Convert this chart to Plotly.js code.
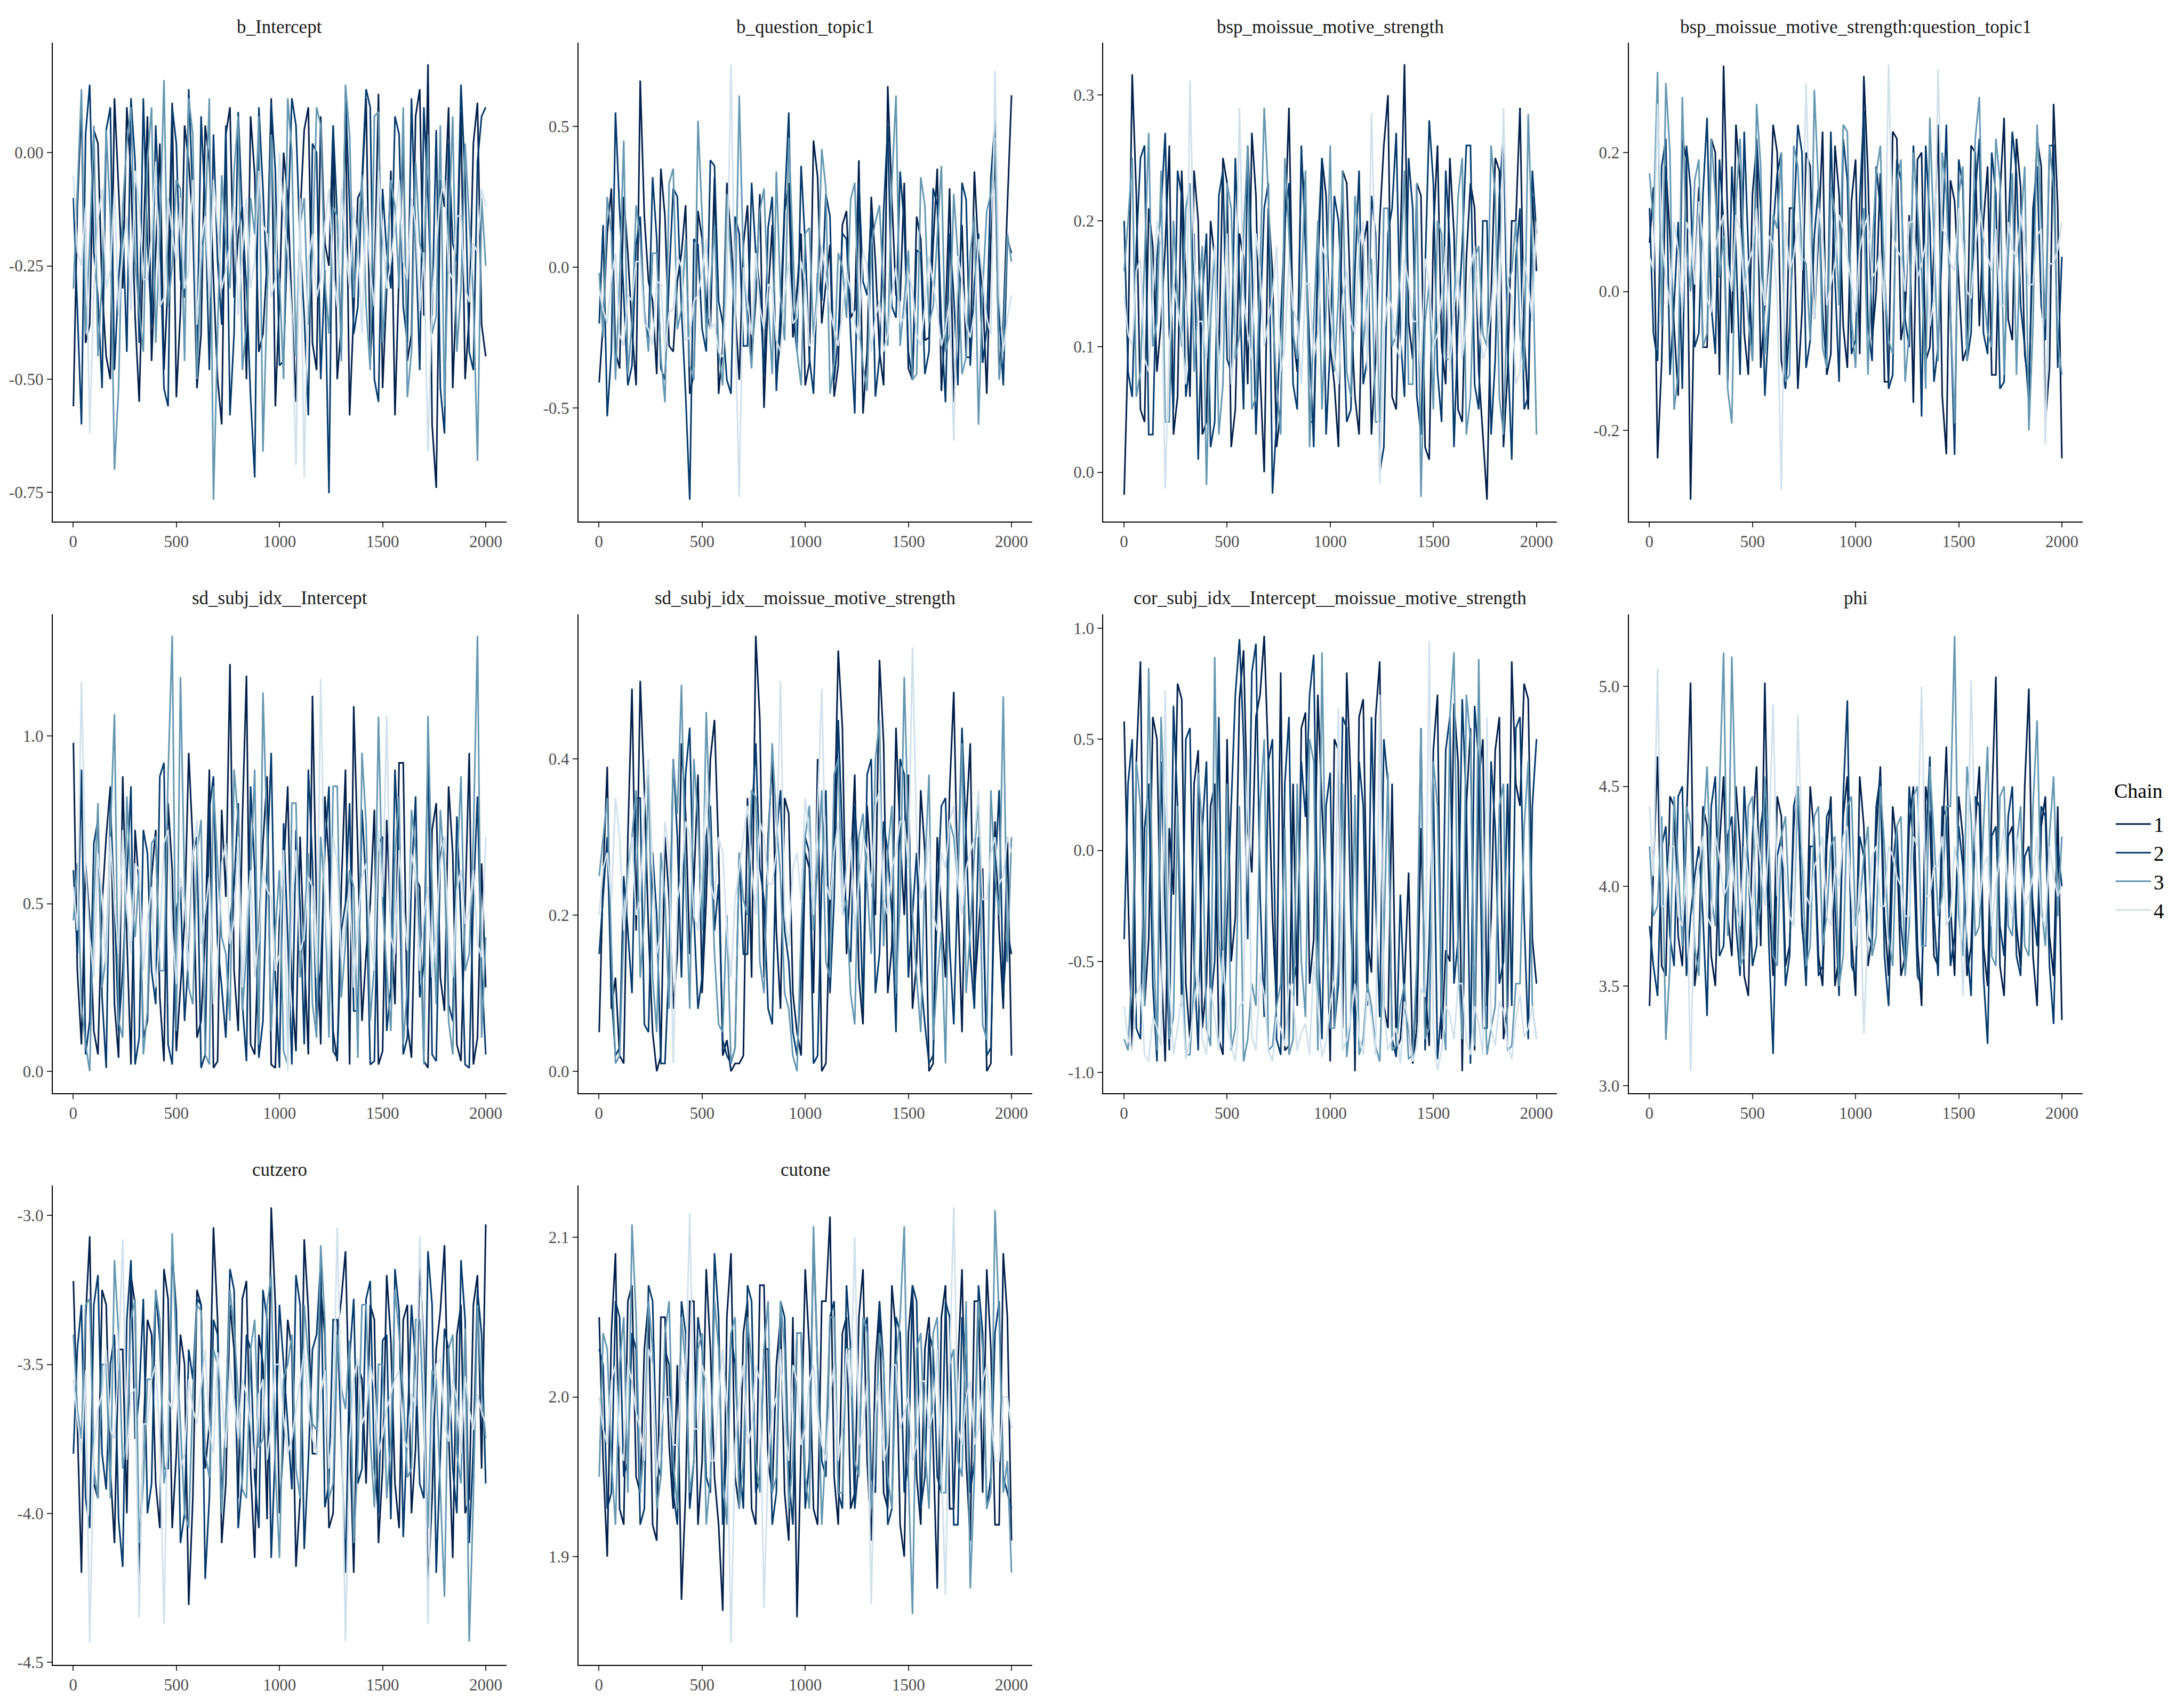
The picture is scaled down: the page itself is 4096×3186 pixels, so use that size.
<!DOCTYPE html>
<html>
<head>
<meta charset="utf-8">
<script src="https://cdn.plot.ly/plotly-3.0.1.min.js"></script>
<style>html,body{margin:0;padding:0;background:#fff;}#chart{width:4096px;height:3186px;}</style>
</head>
<body>
<div id="chart"></div>
<script>
// ---------------- data ----------------
// draws at two interleaved sets of iterations
const iterationA = [1,40,80,120,160,200,240,280,320,360,400,440,480,520,560,600,640,680,720,760,800,840,880,920,960,1000,1040,1080,1120,1160,1200,1240,1280,1320,1360,1400,1440,1480,1520,1560,1600,1640,1680,1720,1760,1800,1840,1880,1920,1960,2000];
const iterationB = [20,60,100,140,180,220,260,300,340,380,420,460,500,540,580,620,660,700,740,780,820,860,900,940,980,1020,1060,1100,1140,1180,1220,1260,1300,1340,1380,1420,1460,1500,1540,1580,1620,1660,1700,1740,1780,1820,1860,1900,1940,1980];
const chainNames = ['1','2','3','4'];
const parameters = ['b_Intercept','b_question_topic1','bsp_moissue_motive_strength','bsp_moissue_motive_strength:question_topic1','sd_subj_idx__Intercept','sd_subj_idx__moissue_motive_strength','cor_subj_idx__Intercept__moissue_motive_strength','phi','cutzero','cutone'];

const b_Intercept_c1 = [-0.56,0.10,-0.38,0.02,-0.45,0.12,-0.30,-0.05,-0.55,0.08,-0.22,-0.48,0.11,-0.35,-0.02,-0.52,0.06,-0.28,-0.60,0.10,-0.18,-0.50,-0.05,-0.40,0.12,-0.32,-0.10,-0.55,0.05,-0.42,0.08,-0.25,-0.50,0.10,-0.35,-0.08,-0.46,0.13,-0.30,-0.58,0.02,-0.40,0.14,0.195,-0.74,-0.12,-0.52,0.09,-0.36,0.11,-0.45];
const b_Intercept_c1b = [-0.12,-0.42,0.05,-0.30,-0.50,-0.08,0.10,-0.36,-0.20,-0.46,0.02,-0.28,-0.54,0.06,-0.16,-0.40,-0.02,-0.50,0.04,-0.32,-0.12,0.08,-0.44,-0.24,-0.56,0.00,-0.34,-0.14,0.10,-0.48,-0.20,0.06,-0.38,-0.58,-0.10,0.12,-0.30,-0.52,-0.04,-0.26,-0.46,0.08,-0.36,-0.60,-0.06,0.10,-0.28,-0.50,0.02,-0.38];
const b_Intercept_c2 = [-0.10,-0.60,0.15,-0.32,0.05,-0.48,-0.15,0.12,-0.42,-0.20,0.06,-0.52,0.10,-0.28,0.14,-0.45,-0.12,0.04,-0.38,-0.58,0.09,-0.30,-0.717,-0.08,0.11,-0.47,-0.18,0.06,-0.36,0.02,-0.50,-0.752,-0.14,0.13,-0.40,-0.06,0.10,-0.55,-0.22,0.08,-0.34,0.12,-0.48,-0.10,0.05,-0.62,-0.20,0.15,-0.44,-0.02,0.10];
const b_Intercept_c2b = [-0.34,0.04,-0.22,-0.52,0.10,-0.28,-0.44,-0.02,0.12,-0.38,-0.16,-0.56,0.02,-0.32,-0.10,0.08,-0.48,-0.24,0.06,-0.40,-0.14,-0.54,0.10,-0.30,-0.04,-0.46,0.12,-0.20,-0.58,0.00,-0.26,0.06,-0.44,-0.12,-0.34,0.14,-0.50,-0.08,-0.30,0.04,-0.42,-0.18,0.10,-0.36,-0.52,0.02,-0.24,-0.06,-0.48,0.08];
const b_Intercept_c3 = [-0.30,0.14,-0.20,-0.45,0.05,-0.70,-0.12,0.10,-0.35,-0.02,-0.42,0.16,-0.25,-0.08,0.12,-0.50,-0.15,-0.766,-0.05,-0.30,0.08,-0.38,-0.18,-0.66,0.04,-0.28,0.12,-0.45,-0.10,-0.22,0.06,-0.40,-0.14,0.15,-0.32,-0.05,-0.48,0.09,-0.26,-0.12,0.10,-0.44,-0.20,0.04,-0.36,-0.56,0.08,-0.30,-0.15,-0.68,-0.25];
const b_Intercept_c3b = [-0.08,-0.40,0.06,-0.28,-0.14,-0.52,0.02,-0.24,-0.44,0.10,-0.18,-0.34,-0.06,-0.46,0.04,-0.26,0.12,-0.40,-0.20,-0.04,-0.48,-0.10,0.08,-0.32,-0.22,-0.50,0.00,-0.16,-0.38,0.10,-0.28,-0.12,-0.46,0.04,-0.20,-0.34,0.08,-0.42,-0.06,-0.30,-0.54,-0.02,-0.24,-0.40,0.06,-0.18,-0.44,0.02,-0.32,-0.10];
const b_Intercept_c4 = [-0.05,-0.25,-0.62,-0.15,-0.30,-0.08,-0.22,-0.35,-0.12,-0.28,-0.02,-0.32,-0.18,-0.10,-0.26,-0.38,-0.14,-0.06,-0.30,-0.20,-0.36,-0.10,-0.24,-0.16,-0.32,0.00,-0.22,-0.69,-0.717,-0.18,-0.28,-0.08,-0.34,-0.20,-0.12,-0.40,-0.26,-0.04,-0.30,-0.16,-0.24,-0.10,-0.35,-0.66,-0.20,-0.06,-0.28,-0.14,-0.33,-0.22,-0.12];
const b_Intercept_c4b = [-0.22,-0.12,-0.30,-0.08,-0.26,-0.36,-0.14,-0.04,-0.28,-0.18,-0.34,-0.10,-0.24,-0.30,-0.06,-0.20,-0.32,-0.16,-0.26,-0.12,-0.22,-0.30,-0.04,-0.18,-0.28,-0.14,-0.36,-0.10,-0.24,-0.32,-0.16,-0.26,-0.08,-0.30,-0.20,-0.12,-0.34,-0.18,-0.24,-0.06,-0.28,-0.16,-0.22,-0.32,-0.10,-0.26,-0.14,-0.30,-0.20,-0.08];

const b_question_topic1_c1 = [-0.41,0.12,-0.30,0.25,-0.22,0.663,-0.05,-0.38,0.18,-0.30,0.05,-0.45,0.20,-0.15,0.32,-0.28,0.10,-0.40,0.22,-0.12,-0.50,0.15,-0.25,0.30,-0.08,-0.42,0.45,-0.20,0.08,-0.35,0.20,-0.15,-0.52,0.25,-0.30,0.643,-0.10,0.30,-0.40,0.10,-0.25,0.35,-0.18,-0.48,0.15,-0.32,0.05,-0.45,0.40,-0.20,0.611];
const b_question_topic1_c1b = [-0.20,0.28,-0.36,0.05,-0.42,0.18,-0.12,0.35,-0.28,-0.05,0.22,-0.38,0.10,-0.22,-0.45,0.30,-0.15,0.08,-0.32,0.26,-0.10,-0.40,0.20,-0.25,0.12,-0.34,0.32,-0.06,-0.46,0.15,-0.18,0.38,-0.30,0.02,-0.42,0.24,-0.12,-0.36,0.18,-0.26,0.08,-0.44,0.28,-0.14,-0.32,0.34,-0.08,0.10,-0.38,0.22];
const b_question_topic1_c2 = [-0.20,-0.53,0.55,-0.10,-0.35,0.18,-0.25,0.10,-0.40,0.28,-0.15,-0.826,0.08,-0.30,0.36,-0.20,-0.45,0.12,-0.28,0.05,-0.38,0.25,-0.15,0.55,-0.30,0.08,-0.45,-0.12,0.18,-0.25,0.10,-0.52,-0.05,0.20,-0.32,0.50,-0.18,0.15,-0.40,0.05,-0.30,0.22,-0.48,-0.10,0.30,-0.35,0.12,-0.22,0.52,-0.42,0.05];
const b_question_topic1_c2b = [0.15,-0.30,0.20,-0.42,0.08,-0.18,0.32,-0.36,-0.04,0.25,-0.45,0.10,-0.22,0.38,-0.12,-0.40,0.18,-0.28,0.30,-0.08,0.14,-0.44,0.22,-0.16,0.36,-0.32,-0.02,0.26,-0.40,0.12,-0.24,0.30,-0.10,-0.46,0.20,-0.14,0.34,-0.30,0.06,-0.38,0.28,-0.20,0.12,-0.42,0.24,-0.06,-0.34,0.32,-0.16,0.10];
const b_question_topic1_c3 = [-0.02,0.25,-0.40,0.45,-0.20,0.10,-0.30,0.05,-0.48,0.35,-0.15,-0.35,0.52,-0.25,0.15,-0.42,0.02,0.61,-0.20,-0.05,0.28,-0.38,-0.10,0.46,-0.30,0.12,-0.25,0.42,-0.45,0.05,-0.18,0.30,-0.35,0.08,0.22,-0.28,0.61,-0.12,-0.40,0.32,-0.20,0.10,-0.30,0.26,-0.38,0.05,-0.56,0.20,0.46,-0.25,0.02];
const b_question_topic1_c3b = [-0.25,0.12,-0.05,-0.38,0.22,-0.15,0.05,-0.32,0.30,-0.22,0.10,-0.40,0.18,-0.08,-0.30,0.26,-0.18,0.02,-0.36,0.20,-0.12,0.34,-0.26,0.08,-0.42,0.14,-0.06,0.28,-0.34,0.00,0.24,-0.20,-0.44,0.16,-0.10,0.30,-0.28,0.06,-0.38,0.22,-0.14,0.36,-0.24,0.04,-0.32,0.18,-0.08,0.26,-0.40,0.12];
const b_question_topic1_c4 = [-0.08,-0.20,0.05,-0.28,-0.12,0.02,-0.22,-0.05,-0.30,-0.15,0.00,-0.25,-0.10,0.10,-0.20,-0.32,0.721,-0.816,-0.12,0.05,-0.22,-0.08,-0.30,0.02,-0.18,-0.05,-0.26,0.08,-0.15,-0.28,-0.02,-0.20,0.06,-0.30,-0.12,-0.24,0.00,-0.18,-0.08,-0.28,0.04,-0.15,-0.22,-0.617,-0.05,-0.25,0.10,-0.18,0.698,-0.30,-0.10];
const b_question_topic1_c4b = [-0.15,-0.04,-0.24,-0.10,0.02,-0.20,-0.28,-0.06,-0.16,0.04,-0.26,-0.12,-0.02,-0.22,-0.30,-0.08,-0.18,0.00,-0.24,-0.14,-0.06,-0.26,-0.10,-0.20,0.02,-0.28,-0.12,-0.04,-0.22,-0.16,-0.08,-0.26,0.00,-0.18,-0.30,-0.10,-0.20,-0.02,-0.24,-0.14,-0.06,-0.28,-0.12,0.04,-0.20,-0.16,-0.04,-0.24,-0.10,-0.18];

const bsp_motive_c1 = [-0.018,0.3166,0.05,0.21,0.08,0.18,0.03,0.24,0.06,0.20,0.04,0.17,0.25,0.02,0.19,0.07,0.22,0.00,0.16,0.05,0.29,0.08,0.21,0.04,0.25,0.10,0.02,0.23,0.06,0.18,0.03,0.20,0.30,0.05,0.3246,0.09,0.22,0.01,0.26,0.07,0.19,0.04,0.23,0.08,-0.0218,0.25,0.02,0.20,0.29,0.05,0.16];
const bsp_motive_c1b = [0.10,0.22,0.04,0.18,0.12,0.26,0.06,0.15,0.24,0.03,0.20,0.09,0.23,0.05,0.17,0.27,0.08,0.21,0.02,0.19,0.11,0.25,0.04,0.16,0.22,0.07,0.24,0.13,0.03,0.20,0.09,0.26,0.06,0.18,0.12,0.23,0.02,0.19,0.10,0.25,0.05,0.17,0.21,0.03,0.14,0.24,0.08,0.20,0.11,0.22];
const bsp_motive_c2 = [0.20,0.06,0.25,0.03,0.17,0.27,0.05,0.22,0.09,0.01,0.19,0.04,0.24,0.08,0.15,0.26,0.03,0.21,-0.017,0.12,0.23,0.05,0.18,0.02,0.25,0.10,0.20,0.04,0.16,0.07,0.22,0.00,0.19,0.27,0.06,0.21,0.03,0.28,0.08,0.24,0.02,0.18,0.26,0.05,0.20,0.09,0.27,0.01,0.21,0.06,0.19];
const bsp_motive_c2b = [0.08,0.18,0.26,0.03,0.21,0.11,0.24,0.06,0.19,0.14,0.02,0.22,0.09,0.25,0.05,0.17,0.12,0.23,0.04,0.20,0.07,0.26,0.10,0.18,0.03,0.22,0.13,0.05,0.24,0.09,0.19,0.02,0.21,0.11,0.25,0.06,0.16,0.23,0.04,0.18,0.12,0.26,0.07,0.20,0.03,0.22,0.10,0.17,0.05,0.24];
const bsp_motive_c3 = [0.16,0.25,0.08,0.27,0.12,0.04,0.20,0.10,0.23,0.14,-0.01,0.18,0.07,0.21,0.11,0.26,0.06,0.29,0.13,0.03,0.19,0.09,0.24,0.12,0.05,0.26,0.14,0.08,0.22,0.10,0.17,0.04,0.21,0.11,0.24,0.07,-0.0196,0.15,0.20,0.09,0.13,0.25,0.06,0.18,0.10,0.22,0.03,0.16,0.11,0.285,0.03];
const bsp_motive_c3b = [0.20,0.06,0.17,0.10,0.24,0.04,0.14,0.21,0.08,0.18,0.12,0.03,0.23,0.09,0.19,0.05,0.16,0.22,0.07,0.25,0.11,0.15,0.02,0.20,0.13,0.08,0.24,0.06,0.18,0.14,0.04,0.21,0.10,0.16,0.07,0.23,0.12,0.05,0.19,0.09,0.22,0.03,0.17,0.11,0.26,0.06,0.15,0.20,0.08,0.18];
const bsp_motive_c4 = [0.14,0.10,0.17,0.08,0.20,-0.013,0.15,0.11,0.3116,0.12,0.09,0.18,0.13,0.07,0.29,0.11,0.19,0.10,0.14,0.08,0.17,0.12,0.15,0.09,0.18,0.13,0.07,0.16,0.11,0.20,0.286,-0.009,0.14,0.10,0.17,0.12,0.08,0.15,0.11,0.18,0.13,0.09,0.16,0.12,0.10,0.17,0.29,0.14,0.08,0.15,0.20];
const bsp_motive_c4b = [0.11,0.16,0.09,0.14,0.18,0.10,0.13,0.07,0.17,0.12,0.15,0.08,0.19,0.11,0.14,0.09,0.16,0.12,0.18,0.10,0.13,0.07,0.15,0.11,0.17,0.09,0.14,0.12,0.18,0.08,0.16,0.11,0.13,0.09,0.15,0.12,0.17,0.10,0.14,0.08,0.16,0.12,0.18,0.09,0.13,0.11,0.15,0.07,0.17,0.12];

const bsp_topic_c1 = [0.07,-0.24,0.18,-0.05,0.22,-0.2995,0.15,-0.08,0.20,0.325,-0.06,0.16,-0.12,0.21,-0.02,0.24,-0.10,0.12,-0.14,0.20,-0.04,0.23,-0.09,0.14,-0.11,0.19,0.31,-0.07,0.17,-0.13,0.22,-0.03,-0.16,0.20,-0.08,0.24,-0.234,0.13,-0.10,0.21,-0.05,0.18,-0.12,0.25,-0.07,0.15,-0.14,0.22,-0.19,0.27,-0.24];
const bsp_topic_c1b = [0.15,-0.10,0.08,-0.15,0.19,0.02,-0.08,0.22,-0.12,0.10,0.24,-0.06,0.14,-0.11,0.05,0.20,-0.14,0.12,-0.03,0.18,0.08,-0.12,0.21,-0.05,0.13,-0.09,0.17,0.00,-0.13,0.23,-0.07,0.11,0.19,-0.10,0.06,-0.15,0.16,0.02,-0.08,0.20,0.10,-0.12,0.14,-0.04,0.22,-0.09,0.07,0.18,-0.11,0.12];
const bsp_topic_c2 = [0.12,-0.10,0.22,-0.02,-0.14,0.15,-0.06,0.25,-0.09,0.10,0.18,-0.12,0.06,0.22,-0.15,0.09,0.20,-0.05,0.24,-0.11,0.08,-0.03,0.23,-0.13,0.16,-0.07,0.26,-0.10,0.12,-0.14,0.19,-0.04,0.21,-0.18,0.10,-0.08,0.24,-0.235,0.15,-0.06,0.22,-0.09,0.14,-0.13,0.23,-0.02,-0.16,0.18,-0.07,0.21,0.05];
const bsp_topic_c2b = [-0.06,0.18,-0.12,0.10,0.21,-0.08,0.14,-0.02,0.19,-0.13,0.06,0.23,-0.10,0.12,-0.04,0.17,-0.14,0.09,0.20,-0.07,0.15,-0.11,0.02,0.22,-0.09,0.13,-0.05,0.18,0.04,-0.12,0.16,-0.08,0.11,0.21,-0.13,0.07,-0.03,0.19,-0.10,0.14,-0.06,0.20,-0.14,0.09,0.17,-0.08,0.12,-0.02,0.21,-0.11];
const bsp_topic_c3 = [0.17,0.316,0.30,-0.17,0.28,0.00,0.19,-0.06,0.14,0.08,-0.19,0.22,-0.04,0.27,-0.09,0.11,0.20,-0.12,0.18,0.04,0.29,-0.08,0.15,-0.02,0.23,-0.11,0.12,0.06,0.21,-0.07,0.16,-0.13,0.20,0.03,0.25,-0.10,0.14,-0.19,0.18,0.01,0.28,-0.06,0.22,-0.12,0.17,0.09,-0.20,0.24,-0.04,0.15,-0.12];
const bsp_topic_c3b = [0.10,-0.05,0.20,-0.12,0.06,0.16,-0.08,0.22,0.02,-0.14,0.13,0.04,-0.10,0.18,-0.02,0.09,-0.13,0.21,0.05,-0.07,0.15,-0.11,0.11,0.24,-0.04,0.08,-0.12,0.17,0.01,-0.09,0.19,-0.06,0.12,-0.14,0.07,0.20,-0.03,0.14,-0.10,0.22,0.00,-0.08,0.16,0.05,-0.12,0.18,-0.05,0.10,0.21,-0.07];
const bsp_topic_c4 = [0.05,0.27,0.02,0.10,-0.03,0.08,0.13,-0.01,0.06,0.11,0.00,0.09,0.04,0.12,-0.02,0.07,-0.2855,0.03,0.10,0.30,-0.04,0.08,0.01,0.11,0.05,-0.03,0.09,0.02,0.06,0.327,0.06,0.00,0.10,0.04,-0.05,0.32,0.08,0.03,0.07,-0.01,0.12,0.05,0.09,-0.02,0.06,0.11,0.01,0.08,-0.22,0.04,0.10];
const bsp_topic_c4b = [0.03,0.08,-0.02,0.06,0.10,0.01,0.07,-0.03,0.09,0.04,0.11,0.00,0.06,0.02,0.08,-0.01,0.10,0.05,0.03,0.07,0.12,-0.02,0.04,0.09,0.01,0.06,0.11,0.03,-0.03,0.08,0.05,0.10,0.02,0.07,-0.01,0.09,0.04,0.12,0.00,0.06,0.08,0.03,-0.02,0.10,0.05,0.07,0.01,0.09,0.04,0.06];

const sd_intercept_c1 = [0.98,0.08,0.45,0.05,0.70,0.20,0.88,0.02,0.55,0.15,0.72,0.03,0.60,0.25,0.95,0.10,0.40,0.01,0.78,1.215,0.12,1.18,0.05,0.68,0.02,0.45,0.85,0.06,0.35,1.12,0.08,0.62,0.03,0.90,1.089,0.15,0.50,0.02,0.75,0.20,0.92,0.04,0.55,0.01,0.80,0.18,0.65,0.03,0.95,0.10,0.25];
const sd_intercept_c1b = [0.30,0.62,0.12,0.50,0.85,0.04,0.40,0.72,0.10,0.58,0.22,0.80,0.06,0.45,0.68,0.15,0.90,0.03,0.52,0.30,0.75,0.08,0.42,0.88,0.01,0.60,0.25,0.70,0.05,0.48,0.82,0.12,0.55,0.02,0.65,0.35,0.78,0.06,0.44,0.92,0.14,0.58,0.03,0.72,0.28,0.85,0.08,0.50,0.02,0.62];
const sd_intercept_c2 = [0.60,0.90,0.15,0.75,0.01,0.50,0.30,0.85,0.10,0.65,0.20,0.92,0.02,0.55,0.35,0.70,0.05,0.88,0.25,0.45,0.80,0.03,0.60,0.15,0.95,0.01,0.40,0.72,0.08,0.62,0.30,0.85,0.04,0.50,0.18,0.78,0.02,0.68,0.12,0.90,0.05,0.58,0.22,0.96,0.03,0.70,0.15,0.45,0.01,0.82,0.05];
const sd_intercept_c2b = [0.35,0.05,0.68,0.22,0.80,0.12,0.58,0.02,0.72,0.30,0.88,0.08,0.48,0.15,0.65,0.01,0.78,0.38,0.10,0.55,0.20,0.85,0.04,0.62,0.28,0.74,0.02,0.50,0.90,0.14,0.66,0.06,0.42,0.80,0.18,0.56,0.03,0.70,0.25,0.60,0.10,0.82,0.32,0.05,0.64,0.20,0.76,0.02,0.52,0.30];
const sd_intercept_c3 = [0.45,0.20,0.00,0.80,0.35,1.065,0.10,0.55,0.60,0.18,0.70,0.30,1.299,1.176,0.25,0.65,0.05,0.85,0.40,0.15,0.75,0.35,0.90,1.13,0.12,0.60,0.02,0.80,0.45,0.20,0.70,0.10,0.85,0.38,0.55,0.95,0.15,1.058,0.30,0.65,0.08,0.78,0.45,1.06,0.20,0.60,0.05,0.88,0.35,1.299,0.40];
const sd_intercept_c3b = [0.62,0.08,0.50,0.25,0.72,0.15,0.82,0.40,0.05,0.68,0.30,0.88,0.12,0.55,0.20,0.75,0.02,0.62,0.35,0.90,0.18,0.58,0.08,0.70,0.42,0.06,0.80,0.28,0.65,0.10,0.52,0.85,0.22,0.60,0.04,0.74,0.32,0.50,0.12,0.82,0.25,0.66,0.02,0.55,0.78,0.15,0.60,0.30,0.70,0.10];
const sd_intercept_c4 = [0.55,1.162,0.40,0.65,0.30,0.50,0.72,0.35,0.60,0.45,0.25,0.68,0.42,0.58,0.30,0.75,0.48,0.20,0.62,0.38,0.70,0.45,0.28,0.60,0.52,0.35,0.00,0.66,0.40,0.55,1.17,0.30,0.62,0.45,0.25,0.58,0.40,0.72,1.06,0.35,0.50,0.65,0.30,0.55,0.42,0.70,0.28,0.60,0.48,0.38,0.70];
const sd_intercept_c4b = [0.42,0.60,0.28,0.52,0.70,0.35,0.48,0.62,0.30,0.55,0.40,0.72,0.26,0.50,0.64,0.38,0.58,0.32,0.68,0.45,0.25,0.60,0.40,0.54,0.30,0.66,0.48,0.36,0.58,0.28,0.50,0.70,0.34,0.56,0.44,0.62,0.30,0.52,0.40,0.66,0.36,0.58,0.46,0.28,0.62,0.38,0.54,0.44,0.60,0.34];

const sd_motive_c1 = [0.05,0.39,0.12,0.01,0.49,0.50,0.18,0.00,0.30,0.08,0.42,0.15,0.38,0.22,0.45,0.02,0.00,0.01,0.35,0.5577,0.12,0.40,0.08,0.33,0.05,0.28,0.10,0.00,0.22,0.539,0.15,0.38,0.06,0.25,0.527,0.10,0.44,0.20,0.08,0.36,0.00,0.30,0.12,0.486,0.05,0.42,0.18,0.00,0.32,0.08,0.02];
const sd_motive_c1b = [0.25,0.08,0.02,0.30,0.18,0.36,0.05,0.02,0.22,0.15,0.33,0.24,0.10,0.40,0.28,0.04,0.01,0.02,0.12,0.45,0.30,0.18,0.35,0.10,0.02,0.26,0.40,0.01,0.30,0.44,0.25,0.12,0.34,0.20,0.42,0.16,0.30,0.38,0.14,0.28,0.01,0.20,0.36,0.22,0.32,0.10,0.26,0.01,0.18,0.30];
const sd_motive_c2 = [0.15,0.30,0.02,0.25,0.10,0.35,0.05,0.20,0.01,0.40,0.12,0.44,0.08,0.30,0.18,0.04,0.01,0.28,0.15,0.42,0.22,0.06,0.36,0.14,0.02,0.30,0.01,0.25,0.10,0.45,0.18,0.34,0.08,0.40,0.15,0.28,0.05,0.38,0.20,0.12,0.01,0.22,0.35,0.06,0.44,0.15,0.30,0.02,0.25,0.10,0.15];
const sd_motive_c2b = [0.22,0.10,0.03,0.18,0.35,0.06,0.28,0.01,0.14,0.30,0.38,0.20,0.12,0.34,0.24,0.02,0.03,0.15,0.32,0.26,0.08,0.30,0.18,0.05,0.12,0.28,0.02,0.36,0.22,0.30,0.14,0.26,0.38,0.10,0.32,0.20,0.40,0.12,0.28,0.06,0.02,0.34,0.16,0.25,0.30,0.08,0.22,0.03,0.36,0.18];
const sd_motive_c3 = [0.25,0.35,0.01,0.18,0.30,0.12,0.38,0.05,0.22,0.40,0.495,0.08,0.32,0.46,0.15,0.05,0.01,0.28,0.20,0.35,0.10,0.42,0.25,0.08,0.00,0.30,0.18,0.36,0.12,0.40,0.22,0.06,0.33,0.15,0.45,0.28,0.10,0.505,0.20,0.05,0.38,0.12,0.01,0.30,0.42,0.18,0.35,0.04,0.25,0.48,0.30];
const sd_motive_c3b = [0.30,0.16,0.02,0.26,0.36,0.20,0.12,0.28,0.08,0.33,0.24,0.40,0.18,0.30,0.06,0.20,0.03,0.22,0.36,0.14,0.28,0.32,0.10,0.02,0.18,0.34,0.26,0.14,0.38,0.20,0.10,0.30,0.24,0.40,0.16,0.34,0.22,0.30,0.12,0.26,0.04,0.18,0.32,0.24,0.10,0.28,0.06,0.36,0.20,0.14];
const sd_motive_c4 = [0.20,0.28,0.35,0.18,0.30,0.22,0.40,0.15,0.32,0.01,0.25,0.30,0.18,0.36,0.22,0.28,0.12,0.26,0.34,0.20,0.30,0.24,0.50,0.16,0.28,0.35,0.20,0.49,0.22,0.32,0.26,0.18,0.30,0.24,0.36,0.20,0.28,0.32,0.543,0.22,0.30,0.18,0.26,0.34,0.20,0.28,0.36,0.22,0.30,0.25,0.28];
const sd_motive_c4b = [0.26,0.22,0.30,0.24,0.20,0.34,0.26,0.18,0.28,0.22,0.32,0.20,0.26,0.24,0.30,0.18,0.22,0.30,0.26,0.32,0.24,0.28,0.20,0.26,0.22,0.30,0.34,0.24,0.28,0.20,0.30,0.24,0.28,0.34,0.22,0.26,0.32,0.26,0.30,0.24,0.20,0.28,0.32,0.24,0.26,0.30,0.22,0.28,0.24,0.30];

const cor_c1 = [0.58,-0.90,0.85,-0.40,0.50,-0.95,-0.20,0.68,-0.85,0.45,-0.60,0.30,-0.92,-0.50,0.68,0.10,0.60,0.965,-0.30,0.80,-0.88,-0.70,0.62,-0.40,0.20,-0.95,0.45,0.80,-0.994,0.68,-0.55,0.85,-0.80,-0.90,-0.60,-0.96,0.10,-0.88,0.70,-0.45,0.66,-0.994,0.55,0.30,-0.70,0.45,-0.85,0.85,0.20,0.68,-0.60];
const cor_c1b = [-0.20,0.40,-0.70,0.60,-0.50,0.10,0.75,-0.60,0.30,-0.80,0.20,-0.85,0.50,-0.30,0.90,-0.10,0.70,0.40,-0.70,-0.90,0.30,0.55,-0.60,0.70,-0.20,0.50,-0.80,0.30,0.60,-0.40,0.60,-0.70,0.30,-0.85,-0.10,-0.80,-0.60,0.45,-0.85,-0.50,0.40,0.20,-0.90,0.50,-0.30,0.60,-0.70,0.30,0.75,-0.40];
const cor_c2 = [-0.40,0.50,-0.85,0.30,-0.95,-0.30,0.65,-0.70,0.55,-0.90,0.40,-0.50,-0.88,0.20,0.95,-0.40,0.93,-0.75,0.50,-0.92,0.60,-0.50,0.15,0.88,-0.85,0.35,-0.60,0.55,-0.90,0.20,0.60,-0.75,0.30,-0.93,-0.70,-0.95,0.55,-0.40,-0.94,0.45,-0.60,0.68,-0.96,0.40,-0.80,0.10,-0.50,-0.70,0.60,-0.85,0.50];
const cor_c2b = [0.30,-0.80,0.10,-0.60,0.40,-0.90,0.20,0.50,-0.50,0.10,-0.70,0.60,-0.30,0.70,0.50,0.80,-0.20,0.40,-0.85,0.30,-0.60,0.40,0.70,-0.40,0.20,-0.80,0.60,-0.30,0.40,-0.70,-0.20,0.50,-0.85,-0.20,-0.80,-0.60,-0.90,0.30,-0.70,0.60,-0.40,0.20,0.65,-0.80,0.40,-0.60,0.30,0.55,-0.30,0.20];
const cor_c3 = [-0.85,-0.50,0.20,0.82,-0.90,0.10,-0.75,-0.40,-0.92,0.35,-0.80,0.87,-0.60,-0.90,0.20,-0.85,-0.70,0.50,-0.88,-0.60,-0.92,0.30,-0.75,0.40,0.89,-0.80,-0.50,-0.93,0.25,-0.85,-0.70,-0.95,0.35,-0.88,-0.60,-0.92,0.55,-0.80,0.20,-0.90,0.89,-0.85,0.50,0.86,-0.92,-0.70,0.30,-0.88,-0.60,0.40,-0.85];
const cor_c3b = [-0.90,0.40,-0.70,-0.30,0.60,-0.85,0.20,-0.92,-0.60,0.10,-0.88,-0.40,0.30,-0.80,-0.95,-0.60,0.20,-0.90,-0.70,0.10,-0.85,-0.50,0.50,-0.90,-0.30,-0.80,0.30,-0.75,-0.92,-0.60,-0.88,-0.40,-0.90,-0.70,-0.94,-0.50,-0.85,0.40,-0.70,0.60,-0.50,0.70,-0.88,-0.40,-0.80,0.20,-0.90,-0.60,0.10,-0.70];
const cor_c4 = [-0.70,-0.90,-0.60,-0.95,-0.80,0.72,-0.92,-0.65,-0.85,-0.55,-0.92,-0.75,-0.45,-0.88,-0.70,0.42,-0.90,-0.65,-0.95,-0.80,-0.60,-0.90,-0.78,-0.50,-0.93,-0.70,0.64,-0.85,-0.60,-0.92,-0.75,0.70,-0.90,-0.80,-0.68,-0.95,-0.62,0.94,-0.99,-0.70,-0.85,-0.60,-0.92,-0.78,0.60,-0.88,-0.72,-0.94,-0.65,-0.80,-0.85];
const cor_c4b = [-0.85,-0.65,-0.92,-0.75,-0.88,-0.60,-0.80,-0.94,-0.70,-0.85,-0.62,-0.90,-0.78,-0.95,-0.68,-0.84,-0.55,-0.90,-0.75,-0.88,-0.66,-0.82,-0.92,-0.70,-0.86,-0.58,-0.90,-0.76,-0.84,-0.64,-0.92,-0.72,-0.85,-0.96,-0.78,-0.88,-0.66,-0.82,-0.90,-0.74,-0.60,-0.86,-0.70,-0.92,-0.80,-0.68,-0.88,-0.76,-0.84,-0.70];

const phi_c1 = [3.40,4.65,3.55,4.40,3.60,5.02,3.70,4.30,3.50,4.55,3.65,4.20,3.45,4.60,5.02,3.55,4.35,3.70,4.50,3.60,4.25,3.50,4.45,3.65,4.55,3.45,4.30,3.75,4.60,3.55,4.20,3.65,4.50,3.40,4.35,3.60,4.70,3.55,4.25,3.70,4.60,3.50,5.05,3.45,4.30,3.60,4.99,3.40,4.45,3.55,3.33];
const phi_c1b = [4.10,3.60,4.45,3.75,4.30,3.50,4.40,3.65,4.20,3.85,4.50,3.55,4.25,3.70,3.95,4.45,3.60,4.30,3.80,4.50,3.65,4.20,3.50,4.35,3.75,4.55,3.60,4.25,3.85,4.40,3.55,4.30,3.70,4.50,3.65,4.20,3.90,4.45,3.55,4.30,3.70,4.40,3.60,4.25,3.80,4.50,3.65,4.30,3.75,4.40];
const phi_c2 = [3.80,3.45,4.30,3.60,4.50,3.85,4.20,3.35,4.55,3.70,4.35,3.55,4.10,3.70,4.45,3.16,4.25,3.65,4.50,3.50,4.20,3.60,4.40,3.45,4.93,3.55,4.15,3.70,4.55,3.40,4.30,3.60,4.20,3.50,4.65,3.55,4.35,3.75,4.10,3.45,4.40,3.21,4.30,3.65,4.50,3.55,4.20,3.70,4.35,3.31,4.00];
const phi_c2b = [3.60,4.20,3.75,4.45,3.55,4.05,3.85,4.40,3.65,4.25,3.80,4.50,3.60,4.30,3.70,4.15,3.50,4.40,3.85,4.20,3.55,4.35,3.90,4.45,3.60,4.25,3.75,4.40,3.65,4.10,3.80,4.50,3.55,4.20,3.85,4.40,3.60,4.30,3.70,4.45,3.55,4.25,3.80,4.35,3.65,4.15,3.90,4.40,3.60,4.20];
const phi_c3 = [4.20,3.90,3.23,4.45,3.70,4.30,3.55,4.60,3.80,5.17,5.15,3.60,4.40,3.75,4.55,3.65,4.25,3.85,4.50,3.60,4.35,3.70,4.20,3.50,4.40,3.80,4.15,3.65,4.50,3.75,4.30,3.55,4.45,3.70,4.60,3.85,4.40,5.254,3.65,4.35,3.80,4.70,3.60,4.50,3.75,4.40,3.65,4.83,3.70,4.55,4.25];
const phi_c3b = [3.85,4.35,3.60,4.10,4.40,3.70,4.25,3.95,4.50,3.75,4.30,3.65,4.45,3.90,4.20,3.60,4.35,3.80,4.15,3.70,4.40,3.85,4.25,3.65,4.45,3.90,4.30,3.75,4.20,3.60,4.35,3.80,4.50,3.70,4.25,3.95,4.40,3.85,4.60,3.75,4.30,3.65,4.45,3.80,4.20,3.70,4.40,3.90,4.25,3.85];
const phi_c4 = [4.40,5.09,3.90,4.20,3.80,3.073,4.10,3.85,4.25,3.95,4.15,3.80,4.05,4.30,3.90,4.91,4.20,3.85,4.86,3.95,4.10,4.25,3.80,4.00,4.30,3.70,3.26,4.15,3.90,4.20,4.05,3.85,4.25,5.00,3.95,4.10,3.80,4.20,3.45,5.03,3.90,4.15,4.00,4.30,3.85,4.10,3.95,4.25,3.80,4.05,4.00];
const phi_c4b = [4.05,3.90,4.20,3.85,4.10,3.95,4.25,3.80,4.15,4.00,3.90,4.20,3.85,4.10,4.25,3.95,4.05,3.80,4.20,3.90,4.15,3.85,4.10,4.25,3.95,4.05,3.80,4.20,3.90,4.15,4.00,3.85,4.20,3.95,4.10,4.25,3.85,4.05,3.90,4.20,4.10,3.80,4.15,3.95,4.25,3.90,4.05,3.85,4.20,3.95];

const cutzero_c1 = [-3.22,-4.20,-3.07,-3.95,-3.30,-4.10,-3.45,-3.20,-4.22,-3.35,-3.90,-3.18,-4.05,-3.40,-4.308,-3.25,-3.85,-3.04,-4.10,-3.30,-3.95,-3.22,-4.15,-3.50,-2.973,-4.00,-3.35,-4.18,-3.08,-3.80,-3.25,-4.05,-3.40,-3.12,-4.20,-3.55,-3.30,-4.10,-3.20,-3.90,-3.35,-4.00,-3.15,-4.25,-3.45,-3.10,-4.15,-3.30,-3.95,-3.20,-3.03];
const cutzero_c1b = [-3.70,-3.35,-3.90,-3.25,-3.85,-3.45,-4.00,-3.30,-3.75,-3.40,-4.05,-3.28,-3.80,-3.50,-3.95,-3.30,-3.70,-3.35,-3.90,-3.45,-3.28,-3.85,-3.40,-4.02,-3.30,-3.75,-3.45,-3.95,-3.32,-3.80,-3.40,-4.00,-3.28,-3.70,-3.50,-3.90,-3.35,-3.85,-3.42,-4.05,-3.30,-3.78,-3.45,-3.95,-3.32,-3.72,-3.40,-4.00,-3.30,-3.85];
const cutzero_c2 = [-3.80,-3.30,-4.05,-3.20,-3.92,-3.40,-4.18,-3.15,-3.60,-4.00,-3.25,-3.85,-3.12,-4.10,-3.45,-3.28,-4.22,-3.35,-3.95,-3.18,-4.05,-3.40,-3.88,-3.25,-4.15,-3.30,-3.70,-3.20,-4.12,-3.45,-3.15,-3.90,-3.35,-4.20,-3.28,-3.85,-3.22,-4.00,-3.40,-3.18,-4.08,-3.30,-3.90,-3.12,-4.20,-3.38,-3.85,-3.15,-4.10,-3.25,-3.90];
const cutzero_c2b = [-3.45,-3.95,-3.30,-3.80,-3.50,-4.02,-3.35,-3.75,-3.28,-3.90,-3.42,-3.85,-3.32,-4.00,-3.55,-3.30,-3.95,-3.40,-3.70,-3.25,-3.88,-3.45,-4.05,-3.35,-3.78,-3.50,-3.92,-3.30,-3.82,-3.40,-3.98,-3.35,-3.75,-3.48,-3.90,-3.28,-3.85,-3.42,-4.02,-3.32,-3.72,-3.50,-3.95,-3.30,-3.80,-3.45,-4.00,-3.35,-3.78,-3.40];
const cutzero_c3 = [-3.40,-3.75,-3.28,-3.95,-3.50,-3.15,-3.85,-3.35,-4.10,-3.55,-3.25,-3.90,-3.06,-3.70,-4.05,-3.30,-3.80,-3.45,-4.00,-3.25,-3.60,-3.95,-3.35,-3.75,-3.20,-4.15,-3.50,-3.85,-3.30,-3.70,-3.10,-3.95,-3.40,-3.65,-4.10,-3.30,-3.75,-3.50,-3.95,-3.25,-3.60,-3.85,-3.35,-4.05,-3.55,-4.28,-3.40,-3.90,-4.431,-3.30,-3.75];
const cutzero_c3b = [-3.65,-3.30,-3.85,-3.50,-3.95,-3.40,-3.75,-3.28,-3.90,-3.55,-3.35,-3.80,-3.45,-4.00,-3.60,-3.32,-3.88,-3.50,-3.70,-3.38,-3.92,-3.45,-3.78,-3.30,-3.85,-3.55,-3.40,-3.95,-3.48,-3.72,-3.35,-3.90,-3.58,-3.42,-3.82,-3.30,-3.98,-3.50,-3.75,-3.40,-3.88,-3.35,-3.70,-3.52,-3.92,-3.45,-3.80,-3.38,-3.95,-3.60];
const cutzero_c4 = [-3.55,-3.80,-4.435,-3.65,-3.45,-3.75,-3.08,-3.60,-4.35,-3.70,-3.50,-4.37,-3.65,-3.85,-3.55,-3.70,-3.45,-3.80,-3.60,-3.50,-3.75,-3.60,-3.85,-3.55,-3.70,-3.50,-3.80,-3.65,-3.45,-3.75,-3.60,-3.85,-3.04,-4.43,-3.55,-3.70,-3.50,-3.80,-3.65,-3.55,-3.75,-3.60,-3.07,-4.37,-3.50,-3.70,-3.55,-3.80,-3.65,-3.60,-3.70];
const cutzero_c4b = [-3.68,-3.52,-3.78,-3.60,-3.72,-3.48,-3.82,-3.58,-3.70,-3.55,-3.75,-3.62,-3.50,-3.80,-3.65,-3.58,-3.72,-3.46,-3.78,-3.62,-3.55,-3.70,-3.60,-3.82,-3.50,-3.68,-3.75,-3.56,-3.64,-3.80,-3.52,-3.70,-3.62,-3.76,-3.48,-3.66,-3.58,-3.74,-3.60,-3.52,-3.78,-3.64,-3.56,-3.70,-3.48,-3.76,-3.62,-3.54,-3.72,-3.66];

const cutone_c1 = [2.05,1.90,2.09,1.92,2.07,1.94,2.06,1.91,2.05,1.93,1.873,2.06,1.92,2.08,1.95,1.866,2.09,1.93,2.06,1.92,2.07,1.94,2.05,1.91,1.862,2.08,1.93,2.06,2.113,1.92,2.05,1.94,2.08,1.91,2.06,1.93,2.04,1.90,2.07,1.92,2.05,1.88,2.07,1.93,2.08,1.91,2.06,2.08,1.92,2.09,1.91];
const cutone_c1b = [1.96,2.04,1.93,2.06,1.95,2.03,1.92,2.05,1.97,2.02,1.94,2.06,1.96,2.03,1.92,2.05,1.95,2.04,1.93,2.07,1.96,2.02,1.94,2.05,1.97,2.03,1.92,2.06,1.95,2.04,1.93,2.05,1.96,2.02,1.94,2.07,1.92,2.04,1.95,2.03,1.97,2.05,1.93,2.02,1.96,2.06,1.94,2.03,1.92,2.05];
const cutone_c2 = [2.03,1.93,2.06,1.95,2.04,1.92,2.07,1.96,2.03,1.94,2.06,1.93,2.05,1.95,2.09,1.92,2.04,1.96,2.07,1.94,2.03,1.92,2.06,1.95,2.04,1.93,2.10,1.96,2.05,1.94,2.07,1.93,2.04,1.95,2.06,1.92,2.05,1.94,2.07,1.93,2.04,1.95,2.06,1.92,2.05,1.94,2.07,1.93,2.04,1.95,1.93];
const cutone_c2b = [2.02,1.94,2.05,1.96,2.03,1.93,2.06,1.95,2.02,1.92,2.04,1.96,2.03,1.94,2.05,1.97,2.02,1.93,2.06,1.95,2.03,1.94,2.05,1.92,2.04,1.96,2.02,1.95,2.06,1.93,2.03,1.96,2.05,1.94,2.02,1.93,2.04,1.96,2.06,1.95,2.03,1.94,2.05,1.92,2.02,1.96,2.04,1.95,2.06,1.94];
const cutone_c3 = [1.95,2.03,1.92,2.05,2.108,1.94,2.06,1.93,2.04,1.96,2.05,1.94,2.03,1.92,2.06,1.95,2.04,1.93,2.05,1.96,2.03,1.94,2.06,1.93,2.04,1.95,2.107,1.92,2.05,1.94,2.03,1.96,2.05,1.93,2.04,1.95,2.02,2.107,1.864,2.04,1.93,2.05,1.94,2.03,1.95,1.88,2.06,1.93,2.117,1.94,1.89];
const cutone_c3b = [2.04,1.96,2.02,1.94,2.05,1.97,2.03,1.95,2.06,1.93,2.02,1.96,2.04,1.95,2.03,1.92,2.05,1.96,2.02,1.94,2.06,1.95,2.03,1.96,2.04,1.93,2.02,1.97,2.05,1.94,2.03,1.95,2.04,1.96,2.02,1.93,2.05,1.95,2.03,1.97,2.04,1.94,2.02,1.96,2.06,1.95,2.03,1.94,2.05,1.96];
const cutone_c4 = [2.00,1.97,2.02,1.96,2.01,1.98,2.03,1.95,2.00,1.97,2.02,2.115,1.98,2.01,1.96,2.03,1.846,2.00,1.97,2.02,1.868,1.99,2.03,1.96,2.01,1.98,2.02,1.97,2.00,1.96,2.03,2.10,1.98,1.87,2.01,1.97,2.02,1.99,1.96,2.01,1.98,2.03,1.876,2.1187,1.97,2.01,1.98,2.02,1.96,2.00,1.98];
const cutone_c4b = [1.98,2.01,1.97,2.02,1.99,1.96,2.02,1.98,2.00,1.97,2.01,1.98,2.02,1.96,2.00,1.99,1.97,2.02,1.98,2.01,1.96,2.00,1.98,2.02,1.97,2.01,1.99,1.96,2.02,1.98,2.00,1.97,2.01,1.99,1.96,2.02,1.98,2.00,1.97,2.01,1.99,1.96,2.02,1.98,2.00,1.97,2.01,1.99,1.96,2.00];

// tick values / labels
const xTickVals = [0,500,1000,1500,2000];
const xTickText = ['0','500','1000','1500','2000'];
const yTickVals = [
  [-0.75,-0.5,-0.25,0], [-0.5,0,0.5], [0,0.1,0.2,0.3], [-0.2,0,0.2], [0,0.5,1],
  [0,0.2,0.4], [-1,-0.5,0,0.5,1], [3,3.5,4,4.5,5], [-4.5,-4,-3.5,-3], [1.9,2,2.1]
];
const yTickText = [
  ['-0.75','-0.50','-0.25','0.00'], ['-0.5','0.0','0.5'], ['0.0','0.1','0.2','0.3'], ['-0.2','0.0','0.2'], ['0.0','0.5','1.0'],
  ['0.0','0.2','0.4'], ['-1.0','-0.5','0.0','0.5','1.0'], ['3.0','3.5','4.0','4.5','5.0'], ['-4.5','-4.0','-3.5','-3.0'], ['1.9','2.0','2.1']
];

// table: parameter -> chain -> [values at iterationA, values at iterationB]
const draws = [
  [[b_Intercept_c1,b_Intercept_c1b],[b_Intercept_c2,b_Intercept_c2b],[b_Intercept_c3,b_Intercept_c3b],[b_Intercept_c4,b_Intercept_c4b]],
  [[b_question_topic1_c1,b_question_topic1_c1b],[b_question_topic1_c2,b_question_topic1_c2b],[b_question_topic1_c3,b_question_topic1_c3b],[b_question_topic1_c4,b_question_topic1_c4b]],
  [[bsp_motive_c1,bsp_motive_c1b],[bsp_motive_c2,bsp_motive_c2b],[bsp_motive_c3,bsp_motive_c3b],[bsp_motive_c4,bsp_motive_c4b]],
  [[bsp_topic_c1,bsp_topic_c1b],[bsp_topic_c2,bsp_topic_c2b],[bsp_topic_c3,bsp_topic_c3b],[bsp_topic_c4,bsp_topic_c4b]],
  [[sd_intercept_c1,sd_intercept_c1b],[sd_intercept_c2,sd_intercept_c2b],[sd_intercept_c3,sd_intercept_c3b],[sd_intercept_c4,sd_intercept_c4b]],
  [[sd_motive_c1,sd_motive_c1b],[sd_motive_c2,sd_motive_c2b],[sd_motive_c3,sd_motive_c3b],[sd_motive_c4,sd_motive_c4b]],
  [[cor_c1,cor_c1b],[cor_c2,cor_c2b],[cor_c3,cor_c3b],[cor_c4,cor_c4b]],
  [[phi_c1,phi_c1b],[phi_c2,phi_c2b],[phi_c3,phi_c3b],[phi_c4,phi_c4b]],
  [[cutzero_c1,cutzero_c1b],[cutzero_c2,cutzero_c2b],[cutzero_c3,cutzero_c3b],[cutzero_c4,cutzero_c4b]],
  [[cutone_c1,cutone_c1b],[cutone_c2,cutone_c2b],[cutone_c3,cutone_c3b],[cutone_c4,cutone_c4b]]
];

// merge the two iteration sets into one ordered series
function mergeChain(a, b) {
  const xs = [], ys = [];
  for (let k = 0; k < iterationA.length; k++) {
    xs.push(iterationA[k]); ys.push(a[k]);
    if (k < iterationB.length) { xs.push(iterationB[k]); ys.push(b[k]); }
  }
  return {xs, ys};
}

// ---------------- style / layout ----------------
const chainColors = ['#011f4b','#03396c','#6497b1','#d1e1ec'];
const FONT = '"Liberation Serif", "Times New Roman", "DejaVu Serif", serif';
const REF_W = 5400, REF_H = 4200;
const colLeft = [130, 1430, 2728, 4027], panelW = 1122;
const rowTop = [105, 1518, 2931], panelH = 1184;

const traces = [];
const layout = {
  width: 4096, height: 3186,
  margin: {l:0, r:0, t:0, b:0, pad:0},
  paper_bgcolor: '#ffffff', plot_bgcolor: '#ffffff',
  font: {family: FONT, color: '#000000'},
  showlegend: true,
  legend: {
    x: 0.9675, y: 0.5250, xanchor: 'left', yanchor: 'top',
    font: {family: FONT, size: 39, color: '#000000'},
    bgcolor: 'rgba(0,0,0,0)', borderwidth: 0, traceorder: 'normal',
    itemwidth: 66, tracegroupgap: 0
  },
  annotations: [{
    text: 'Chain', xref: 'paper', yref: 'paper', x: 5225 / REF_W, y: 1 - 1955 / REF_H,
    xanchor: 'left', yanchor: 'middle', showarrow: false,
    font: {family: FONT, size: 38, color: '#000000'}
  }]
};

parameters.forEach((p, i) => {
  const row = Math.floor(i / 4), col = i % 4;
  const sfx = i === 0 ? '' : String(i + 1);
  const xa = 'xaxis' + sfx, ya = 'yaxis' + sfx;
  const x0 = colLeft[col] / REF_W, x1 = (colLeft[col] + panelW) / REF_W;
  const y1 = 1 - rowTop[row] / REF_H, y0 = 1 - (rowTop[row] + panelH) / REF_H;
  let lo = Infinity, hi = -Infinity;
  draws[i].forEach(ch => ch.forEach(arr => arr.forEach(v => { if (v < lo) lo = v; if (v > hi) hi = v; })));
  const pad = 0.05 * (hi - lo);
  const axisCommon = {
    showline: true, linecolor: '#000000', linewidth: 2,
    ticks: 'outside', ticklen: 9, tickwidth: 2, tickcolor: '#333333',
    showgrid: false, zeroline: false, fixedrange: true,
    tickfont: {family: FONT, size: 31, color: '#4d4d4d'}
  };
  layout[xa] = Object.assign({}, axisCommon, {
    domain: [x0, x1], anchor: 'y' + sfx, range: [-100, 2100],
    tickmode: 'array', tickvals: xTickVals, ticktext: xTickText
  });
  layout[ya] = Object.assign({}, axisCommon, {
    domain: [y0, y1], anchor: 'x' + sfx, range: [lo - pad, hi + pad],
    tickmode: 'array', tickvals: yTickVals[i], ticktext: yTickText[i]
  });
  layout.annotations.push({
    text: p, xref: 'paper', yref: 'paper',
    x: (x0 + x1) / 2, y: y1 + 39 / REF_H, xanchor: 'center', yanchor: 'middle',
    showarrow: false, font: {family: FONT, size: 35, color: '#1a1a1a'}
  });
  draws[i].forEach((pair, c) => {
    const m = mergeChain(pair[0], pair[1]);
    traces.push({
      type: 'scatter', mode: 'lines',
      x: m.xs, y: m.ys,
      xaxis: 'x' + sfx, yaxis: 'y' + sfx,
      name: chainNames[c], legendgroup: 'chain' + chainNames[c],
      showlegend: i === 0,
      line: {color: chainColors[c], width: 3},
      hoverinfo: 'skip'
    });
  });
});

Plotly.newPlot('chart', traces, layout, {staticPlot: true, displayModeBar: false});
</script>
</body>
</html>
